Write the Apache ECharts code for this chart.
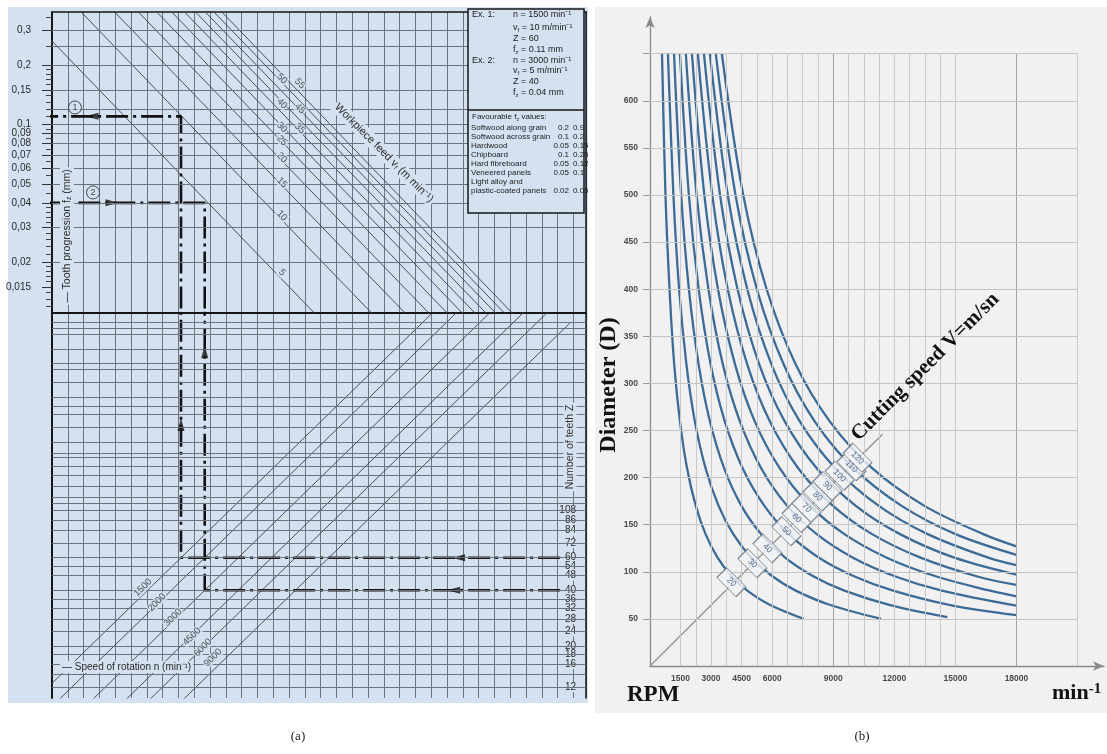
<!DOCTYPE html>
<html>
<head>
<meta charset="utf-8">
<script src="https://cdn.jsdelivr.net/npm/echarts@6.0.0/dist/echarts.min.js"></script>
<style>
html,body{margin:0;padding:0;background:#ffffff;}
#chart{width:1107px;height:754px;}
</style>
</head>
<body>
<div id="chart"></div>
<script>
// ================= Panel (a): feed nomogram =================
const fzTickValues = [0.3, 0.2, 0.15, 0.1, 0.09, 0.08, 0.07, 0.06, 0.05, 0.04, 0.03, 0.02, 0.015];
const fzTickLabels = ['0,3', '0,2', '0,15', '0,1', '0,09', '0,08', '0,07', '0,06', '0,05', '0,04', '0,03', '0,02', '0,015'];
const fzMinorTicks = [0.35, 0.25, 0.19, 0.18, 0.17, 0.16, 0.14, 0.13, 0.12, 0.11, 0.095, 0.085, 0.075, 0.065, 0.055, 0.045, 0.038, 0.036, 0.034, 0.032, 0.028, 0.026, 0.024, 0.022, 0.019, 0.018, 0.017, 0.016, 0.014, 0.013, 0.012];
const fzGridLines = [0.3, 0.25, 0.2, 0.15, 0.12, 0.1, 0.09, 0.08, 0.07, 0.06, 0.05, 0.04, 0.035, 0.03, 0.025, 0.02, 0.015, 0.012];

const teethTicks = [108, 96, 84, 72, 60, 54, 48, 40, 36, 32, 28, 24, 20, 18, 16, 12];
const teethTickLabels = ['108', '86', '84', '72', '60', '54', '48', '40', '36', '32', '28', '24', '20', '18', '16', '12'];
// same ticks, listed so that the first two labels do not collide (keeps every label visible)
const teethLabelSequence = [60, 108, 96, 84, 72, 54, 48, 40, 36, 32, 28, 24, 20, 18, 16, 12];
const teethGridLines = [1120, 1050, 965, 800, 672, 624, 531, 440, 394, 356, 303, 252, 219, 209, 187, 167, 146, 128, 118, 108, 96, 84, 72, 60, 54, 48, 40, 36, 32, 28, 24, 20, 18, 16, 14, 12];

// workpiece feed lines v_f (m/min): each drawn between X = 1e4 and X = 1e7 (X = n*Z)
const feedRates = [5, 10, 15, 20, 25, 30, 35, 40, 45, 50, 55];
const feedLineX = [10000, 10000000];
const feedFzAtStart = [0.5, 1, 1.5, 2, 2.5, 3, 3.5, 4, 4.5, 5, 5.5];
const feedFzAtEnd = [0.0005, 0.001, 0.0015, 0.002, 0.0025, 0.003, 0.0035, 0.004, 0.0045, 0.005, 0.0055];
const feedLabelPos = [[306000, 0.0177], [306000, 0.0345], [306000, 0.0507], [306000, 0.0679], [306000, 0.0829], [306000, 0.0966], [380000, 0.0955], [306000, 0.1277], [380000, 0.1205], [306000, 0.171], [380000, 0.1614]];

// speed of rotation lines n (1/min)
const spindleSpeeds = [1500, 2000, 3000, 4500, 6000, 9000];
const speedLineX = [10000, 10000000];
const speedZAtStart = [6.667, 5, 3.333, 2.222, 1.667, 1.111];
const speedZAtEnd = [6667, 5000, 3333, 2222, 1667, 1111];
const speedLabelPos = [[56750, 41.4], [67300, 34.4], [81600, 28.5], [102800, 22.5], [117500, 19.6], [132500, 17.3]];

// worked examples (dash-dot paths)
const ex1Lower = [[8900000, 60], [90000, 60], [90000, 5000]];
const ex1Upper = [[90000, 0.001], [90000, 0.11], [1000, 0.11]];
const ex2Lower = [[8900000, 40], [120000, 40], [120000, 5000]];
const ex2Upper = [[120000, 0.001], [120000, 0.04], [1000, 0.04]];
const lowerArrows = [[2600000, 60, 'left'], [2450000, 40, 'left'], [90000, 315, 'up'], [120000, 780, 'up']];
const upperArrows = [[30600, 0.11, 'left'], [39000, 0.04, 'right']];
const exampleMarks = [[24900, 0.122, '1'], [31000, 0.0452, '2']];

// ================= Panel (b): cutting speed curves =================
const cuttingSpeeds = [20, 30, 40, 50, 60, 70, 80, 90, 100, 110, 120];
const curve20 = [[590, 650], [760, 500], [960, 400], [1190, 320], [1470, 260], [1820, 210], [2250, 170], [2730, 140], [3320, 115], [4020, 95], [4780, 80], [5880, 65], [7550, 50]];
const curve30 = [[880, 650], [1150, 500], [1430, 400], [1790, 320], [2200, 260], [2730, 210], [3370, 170], [4090, 140], [4980, 115], [6030, 95], [7160, 80], [8820, 65], [11350, 50]];
const curve40 = [[1180, 650], [1530, 500], [1910, 400], [2390, 320], [2940, 260], [3640, 210], [4490, 170], [5460, 140], [6640, 115], [8040, 95], [9550, 80], [11750, 65], [14600, 52]];
const curve50 = [[1470, 650], [1910, 500], [2390, 400], [2980, 320], [3670, 260], [4550, 210], [5620, 170], [6820, 140], [8300, 115], [10050, 95], [11940, 80], [14690, 65], [18000, 54]];
const curve60 = [[1760, 650], [2290, 500], [2870, 400], [3580, 320], [4410, 260], [5460, 210], [6740, 170], [8190, 140], [9970, 115], [12060, 95], [14330, 80], [18000, 64]];
const curve70 = [[2060, 650], [2670, 500], [3340, 400], [4180, 320], [5140, 260], [6370, 210], [7870, 170], [9550, 140], [11630, 115], [14070, 95], [16710, 80], [18000, 74]];
const curve80 = [[2350, 650], [3060, 500], [3820, 400], [4780, 320], [5880, 260], [7280, 210], [8990, 170], [10910, 140], [13290, 115], [16080, 95], [18000, 86]];
const curve90 = [[2650, 650], [3440, 500], [4300, 400], [5370, 320], [6610, 260], [8190, 210], [10110, 170], [12280, 140], [14950, 115], [18000, 97]];
const curve100 = [[2940, 650], [3820, 500], [4780, 400], [5970, 320], [7350, 260], [9100, 210], [11240, 170], [13640, 140], [16610, 115], [18000, 107]];
const curve110 = [[3230, 650], [4200, 500], [5250, 400], [6570, 320], [8080, 260], [10000, 210], [12360, 170], [15010, 140], [18000, 118]];
const curve120 = [[3530, 650], [4580, 500], [5730, 400], [7160, 320], [8820, 260], [10910, 210], [13480, 170], [16370, 140], [18000, 127]];
const speedCurves = [curve20, curve30, curve40, curve50, curve60, curve70, curve80, curve90, curve100, curve110, curve120];
const speedLabelPoints = [[4000, 89], [5030, 109], [5770, 125], [6700, 143], [7200, 157], [7690, 168], [8230, 180], [8720, 191], [9310, 202], [9900, 212], [10190, 221]];
const cuttingLine = [[0, 0], [11420, 246]];
const rpmTickLabels = [1500, 3000, 4500, 6000, 9000, 12000, 15000, 18000];
const rpmGridLines = [1500, 2250, 3000, 3750, 4500, 5250, 6000, 6750, 7500, 8250, 9000, 9750, 10500, 11250, 12000, 12750, 13500, 14250, 15000, 18000, 21000];
const rpmDarkLines = [9000, 18000];
const diameterTicks = [50, 100, 150, 200, 250, 300, 350, 400, 450, 500, 550, 600, 650];
const diameterTickLabels = [50, 100, 150, 200, 250, 300, 350, 400, 450, 500, 550, 600];

// ================= ranges & styles =================
const L = v => Math.log10(v);
const X_RANGE = [18855, 12180000];
const FZ_RANGE = [0.01104, 0.3724];
const Z_RANGE = [10.47, 1262];
const N_RANGE = [0, 22300];
const D_RANGE = [0, 689];
const BLUE = '#d3e1f1';
const GRAY_A = '#6d727b';
const INK = '#161616';
const ROT = { left: 90, right: -90, up: 0 };
const SANS = 'Liberation Sans';
const SERIF = 'Liberation Serif';

function labelFrom(values, labels) {
  return function (v) {
    let best = -1, bestD = Infinity;
    for (let i = 0; i < values.length; i++) {
      const d = Math.abs(L(values[i]) - v);
      if (d < bestD) { bestD = d; best = i; }
    }
    return bestD < 0.002 ? labels[best] : '';
  };
}

const chart = echarts.init(document.getElementById('chart'));

const series = [];
// horizontal grid lines of upper section
series.push({
  type: 'line', xAxisIndex: 0, yAxisIndex: 0, data: [[40000, 0.1]], symbol: 'none',
  lineStyle: { width: 0 }, silent: true, z: 1,
  markLine: { silent: true, symbol: ['none', 'none'], label: { show: false },
    lineStyle: { color: GRAY_A, width: 1, type: 'solid' },
    data: fzGridLines.map(v => ({ yAxis: v })) }
});
// horizontal grid lines of lower section
series.push({
  type: 'line', xAxisIndex: 2, yAxisIndex: 4, data: [[40000, 100]], symbol: 'none',
  lineStyle: { width: 0 }, silent: true, z: 1,
  markLine: { silent: true, symbol: ['none', 'none'], label: { show: false },
    lineStyle: { color: GRAY_A, width: 1, type: 'solid' },
    data: teethGridLines.map(v => ({ yAxis: v })) }
});
// feed lines
feedRates.forEach((vf, i) => series.push({
  type: 'line', xAxisIndex: 0, yAxisIndex: 0, silent: true, z: 2, symbol: 'none',
  data: [[feedLineX[0], feedFzAtStart[i]], [feedLineX[1], feedFzAtEnd[i]]],
  lineStyle: { color: '#3a3f47', width: 0.9 }
}));
// speed lines
spindleSpeeds.forEach((n, i) => series.push({
  type: 'line', xAxisIndex: 2, yAxisIndex: 4, silent: true, z: 2, symbol: 'none',
  data: [[speedLineX[0], speedZAtStart[i]], [speedLineX[1], speedZAtEnd[i]]],
  lineStyle: { color: '#3a3f47', width: 0.9 }
}));
// dash-dot example paths
const DASHDOT = [22, 5, 3, 5];
[ex1Lower, ex2Lower].forEach(p => series.push({
  type: 'line', xAxisIndex: 2, yAxisIndex: 4, data: p, symbol: 'none', silent: true, z: 3,
  lineStyle: { color: '#111', width: 2.6, type: DASHDOT }
}));
[ex1Upper, ex2Upper].forEach(p => series.push({
  type: 'line', xAxisIndex: 0, yAxisIndex: 0, data: p, symbol: 'none', silent: true, z: 3,
  lineStyle: { color: '#111', width: 2.6, type: DASHDOT }
}));
series.push({
  type: 'scatter', xAxisIndex: 2, yAxisIndex: 4, symbol: 'triangle', symbolSize: [7, 13], silent: true, z: 4,
  itemStyle: { color: '#111' },
  data: lowerArrows.map(a => ({ value: [a[0], a[1]], symbolRotate: ROT[a[2]] }))
});
series.push({
  type: 'scatter', xAxisIndex: 0, yAxisIndex: 0, symbol: 'triangle', symbolSize: [7, 13], silent: true, z: 4,
  itemStyle: { color: '#111' },
  data: upperArrows.map(a => ({ value: [a[0], a[1]], symbolRotate: ROT[a[2]] }))
});
series.push({
  type: 'scatter', xAxisIndex: 0, yAxisIndex: 0, symbol: 'circle', symbolSize: 13, silent: true, z: 5,
  itemStyle: { color: BLUE, borderColor: '#222', borderWidth: 1 },
  label: { show: true, position: 'inside', fontSize: 9, color: '#222', fontFamily: SANS, formatter: p => exampleMarks[p.dataIndex][2] },
  data: exampleMarks.map(m => [m[0], m[1]])
});
// feed labels
series.push({
  type: 'scatter', xAxisIndex: 0, yAxisIndex: 0, symbolSize: 1, silent: true, z: 5,
  itemStyle: { color: 'rgba(0,0,0,0)' },
  label: { show: true, position: 'inside', rotate: -45, fontSize: 9.5, color: '#2e2e2e', fontFamily: SANS,
    backgroundColor: BLUE, padding: [0, 1], formatter: p => String(feedRates[p.dataIndex]) },
  data: feedLabelPos
});
// speed labels
series.push({
  type: 'scatter', xAxisIndex: 2, yAxisIndex: 4, symbolSize: 1, silent: true, z: 5,
  itemStyle: { color: 'rgba(0,0,0,0)' },
  label: { show: true, position: 'inside', rotate: 45, fontSize: 9.5, color: '#2e2e2e', fontFamily: SANS,
    backgroundColor: BLUE, padding: [0, 1], formatter: p => String(spindleSpeeds[p.dataIndex]) },
  data: speedLabelPos
});

// ---- panel (b)
const gridLineData = [];
rpmGridLines.forEach(n => gridLineData.push([
  { coord: [n, 0], lineStyle: { color: rpmDarkLines.includes(n) ? '#a2a2a2' : '#cacaca', width: 1, type: 'solid' } },
  { coord: [n, 650] }
]));
diameterTicks.forEach(d => gridLineData.push([
  { coord: [0, d], lineStyle: { color: '#c4c4c4', width: 1, type: 'solid' } },
  { coord: [21000, d] }
]));
series.push({
  type: 'line', xAxisIndex: 4, yAxisIndex: 7, data: cuttingLine, symbol: 'none', silent: true, z: 2,
  lineStyle: { color: '#8d8d8d', width: 1.2 },
  markLine: { silent: true, symbol: ['none', 'none'], label: { show: false },
    lineStyle: { color: '#cacaca', width: 1, type: 'solid' }, data: gridLineData }
});
speedCurves.forEach(c => series.push({
  type: 'line', xAxisIndex: 4, yAxisIndex: 7, data: c, smooth: 0.35, symbol: 'none', silent: true, z: 3,
  lineStyle: { color: '#3b6b97', width: 2.3 }
}));
series.push({
  type: 'scatter', xAxisIndex: 4, yAxisIndex: 7, data: speedLabelPoints, symbol: 'rect', symbolSize: [27, 14],
  symbolRotate: -45, silent: true, z: 5,
  itemStyle: { color: '#f2f4f6', borderColor: '#68737f', borderWidth: 1 },
  label: { show: true, position: 'inside', rotate: -45, fontSize: 8.5, color: '#2c4e7c', fontFamily: SANS,
    formatter: p => String(cuttingSpeeds[p.dataIndex]) }
});

// ---- graphic (backgrounds, titles, example box)
function txt(x, y, text, style, extra) {
  return Object.assign({
    type: 'text', x: x, y: y, z: 100, silent: true,
    style: Object.assign({ text: text, fill: '#222', fontSize: 9, fontFamily: SANS, align: 'left', verticalAlign: 'middle' }, style || {})
  }, extra || {});
}
const subRich = {
  n: { fontSize: 9, fontFamily: SANS, fill: '#222' },
  s: { fontSize: 6, fontFamily: SANS, fill: '#222', verticalAlign: 'bottom', padding: [4, 0, 0, 0] }
};
const subRich8 = {
  n: { fontSize: 8, fontFamily: SANS, fill: '#222' },
  s: { fontSize: 5.5, fontFamily: SANS, fill: '#222', verticalAlign: 'bottom', padding: [4, 0, 0, 0] }
};
const boxRows = [
  [15, 'Ex. 1:', 'n = 1500 min⁻¹'],
  [28, '', '{n|v}{s|f}{n| = 10 m/min⁻¹}'],
  [39, '', 'Z = 60'],
  [50, '', '{n|f}{s|z}{n| = 0.11 mm}'],
  [61, 'Ex. 2:', 'n = 3000 min⁻¹'],
  [71, '', '{n|v}{s|f}{n| = 5 m/min⁻¹}'],
  [82, '', 'Z = 40'],
  [93, '', '{n|f}{s|z}{n| = 0.04 mm}']
];
const fzRows = [
  [128, 'Softwood along grain', '0.2', '0.9'],
  [137, 'Softwood across grain', '0.1', '0.2'],
  [146, 'Hardwood', '0.05', '0.15'],
  [155, 'Chipboard', '0.1', '0.25'],
  [164, 'Hard fibreboard', '0.05', '0.12'],
  [173, 'Veneered panels', '0.05', '0.1'],
  [182, 'Light alloy and', '', ''],
  [191, 'plastic-coated panels', '0.02', '0.05']
];
const boxEls = [
  { type: 'rect', z: 100, silent: true, shape: { x: 468, y: 9, width: 116, height: 204 }, style: { fill: BLUE, stroke: INK, lineWidth: 1.5 } },
  { type: 'line', z: 100, silent: true, shape: { x1: 468, y1: 110, x2: 584, y2: 110 }, style: { stroke: INK, lineWidth: 1.5 } }
];
boxRows.forEach(r => {
  if (r[1]) boxEls.push(txt(472, r[0], r[1], { fontSize: 9 }));
  boxEls.push(txt(513, r[0], r[2], { fontSize: 9, rich: subRich }));
});
boxEls.push(txt(472, 117, '{n|Favourable f}{s|z}{n| values:}', { fontSize: 8, rich: subRich8 }));
fzRows.forEach(r => {
  boxEls.push(txt(471, r[0], r[1], { fontSize: 8 }));
  if (r[2]) boxEls.push(txt(569, r[0], r[2], { fontSize: 8, align: 'right' }));
  if (r[3]) boxEls.push(txt(573, r[0], r[3], { fontSize: 8 }));
});

const graphicEls = [
  { type: 'rect', z: -10, silent: true, shape: { x: 8, y: 7, width: 580, height: 696 }, style: { fill: BLUE } },
  { type: 'rect', z: -10, silent: true, shape: { x: 595, y: 7, width: 512, height: 706 }, style: { fill: '#f1f1f1' } },
  ...boxEls,
  txt(67, 236, '{n|— Tooth progression f}{s|z}{n| (mm)}', {
    align: 'center', backgroundColor: BLUE, padding: [1, 2],
    rich: { n: { fontSize: 10.5, fontFamily: SANS, fill: '#2a2a2a' }, s: { fontSize: 7, fontFamily: SANS, fill: '#2a2a2a', verticalAlign: 'bottom', padding: [5, 0, 0, 0] } }
  }, { rotation: Math.PI / 2 }),
  txt(570, 447, 'Number of teeth Z', { align: 'center', fontSize: 10.5, fill: '#3a3232', backgroundColor: BLUE, padding: [1, 2] }, { rotation: Math.PI / 2 }),
  txt(384, 153, '{n|Workpiece feed v}{s|f}{n| (m min⁻¹)}', {
    align: 'center', backgroundColor: BLUE, padding: [1, 2],
    rich: { n: { fontSize: 11, fontFamily: SANS, fill: '#2f2f2f' }, s: { fontSize: 7, fontFamily: SANS, fill: '#2f2f2f', verticalAlign: 'bottom', padding: [5, 0, 0, 0] } }
  }, { rotation: -Math.PI / 4 }),
  txt(60, 667, '— Speed of rotation n (min⁻¹)', { fontSize: 10, fill: '#2a2a2a', backgroundColor: BLUE, padding: [1, 2] }),
  // panel (b) titles
  txt(609, 385, 'Diameter (D)', { align: 'center', fontSize: 24, fontWeight: 'bold', fontFamily: SERIF, fill: '#111' }, { rotation: Math.PI / 2 }),
  txt(627, 695, 'RPM', { fontSize: 23, fontWeight: 'bold', fontFamily: SERIF, fill: '#111' }),
  txt(1052, 693, '{a|min}{b|-1}', {
    rich: { a: { fontSize: 22, fontWeight: 'bold', fontFamily: SERIF, fill: '#111' },
            b: { fontSize: 15, fontWeight: 'bold', fontFamily: SERIF, fill: '#111', verticalAlign: 'top' } }
  }),
  txt(862, 445, 'Cutting speed V=m/sn', { fontSize: 21, fontWeight: 'bold', fontFamily: SERIF, fill: '#111', verticalAlign: 'bottom' }, { rotation: Math.PI / 4 }),
  txt(298, 737, '(a)', { align: 'center', fontSize: 13, fontFamily: SERIF, fill: '#222' }),
  txt(862, 737, '(b)', { align: 'center', fontSize: 13, fontFamily: SERIF, fill: '#222' })
];

const option = {
  animation: false,
  backgroundColor: '#ffffff',
  textStyle: { fontFamily: SANS },
  grid: [
    { left: 52, top: 12, width: 534, height: 301, outerBoundsMode: 'none' },
    { left: 52, top: 313, width: 534, height: 385, outerBoundsMode: 'none' },
    { left: 650, top: 17, width: 454, height: 649, outerBoundsMode: 'none' }
  ],
  xAxis: [
    { type: 'log', logBase: 10, gridIndex: 0, min: X_RANGE[0], max: X_RANGE[1], show: false },
    { type: 'value', gridIndex: 0, position: 'top', min: 0, max: 33.8, interval: 1,
      axisLine: { show: true, lineStyle: { color: INK, width: 1.5 } }, axisTick: { show: false }, axisLabel: { show: false },
      splitLine: { show: true, lineStyle: { color: GRAY_A, width: 1 } } },
    { type: 'log', logBase: 10, gridIndex: 1, min: X_RANGE[0], max: X_RANGE[1], show: false },
    { type: 'value', gridIndex: 1, position: 'top', min: 0, max: 33.8, interval: 1,
      axisLine: { show: true, lineStyle: { color: INK, width: 2 } }, axisTick: { show: false }, axisLabel: { show: false },
      splitLine: { show: true, lineStyle: { color: GRAY_A, width: 1 } } },
    { type: 'value', gridIndex: 2, position: 'bottom', min: N_RANGE[0], max: N_RANGE[1],
      axisLine: { show: true, symbol: ['none', 'arrow'], symbolSize: [7, 11], lineStyle: { color: '#8a8a8a', width: 1.3 } },
      axisTick: { show: false },
      axisLabel: { show: true, customValues: rpmTickLabels, formatter: v => String(v), fontSize: 8.5, color: '#4a4a4a', margin: 8, fontWeight: 'bold' },
      splitLine: { show: false } }
  ],
  yAxis: [
    { type: 'log', logBase: 10, gridIndex: 0, min: FZ_RANGE[0], max: FZ_RANGE[1], show: false },
    { type: 'value', gridIndex: 0, position: 'left', min: L(FZ_RANGE[0]), max: L(FZ_RANGE[1]),
      axisLine: { show: true, lineStyle: { color: INK, width: 2 } },
      axisTick: { show: true, customValues: fzTickValues.map(L), length: 10, lineStyle: { color: '#333' } },
      axisLabel: { show: true, customValues: fzTickValues.map(L), formatter: labelFrom(fzTickValues, fzTickLabels), fontSize: 10, color: '#2a2a2a', margin: 21 },
      splitLine: { show: false } },
    { type: 'value', gridIndex: 0, position: 'left', min: L(FZ_RANGE[0]), max: L(FZ_RANGE[1]),
      axisLine: { show: false },
      axisTick: { show: true, customValues: fzMinorTicks.map(L), length: 6, lineStyle: { color: '#444' } },
      axisLabel: { show: false }, splitLine: { show: false } },
    { type: 'value', gridIndex: 0, position: 'right', min: L(FZ_RANGE[0]), max: L(FZ_RANGE[1]),
      axisLine: { show: true, lineStyle: { color: INK, width: 1.5 } }, axisTick: { show: false }, axisLabel: { show: false }, splitLine: { show: false } },
    { type: 'log', logBase: 10, gridIndex: 1, min: Z_RANGE[0], max: Z_RANGE[1], show: false },
    { type: 'value', gridIndex: 1, position: 'right', min: L(Z_RANGE[0]), max: L(Z_RANGE[1]),
      axisLine: { show: true, lineStyle: { color: INK, width: 1.5 } },
      axisTick: { show: true, inside: true, customValues: teethTicks.map(L), length: 26, lineStyle: { color: '#333' } },
      axisLabel: { show: true, inside: true, customValues: teethLabelSequence.map(L), formatter: labelFrom(teethTicks, teethTickLabels),
        fontSize: 10, color: '#2a2a2a', margin: 9, backgroundColor: BLUE, padding: [0, 1], hideOverlap: false },
      splitLine: { show: false } },
    { type: 'value', gridIndex: 1, position: 'left', min: L(Z_RANGE[0]), max: L(Z_RANGE[1]),
      axisLine: { show: true, lineStyle: { color: INK, width: 2 } }, axisTick: { show: false }, axisLabel: { show: false }, splitLine: { show: false } },
    { type: 'value', gridIndex: 2, position: 'left', min: D_RANGE[0], max: D_RANGE[1],
      axisLine: { show: true, symbol: ['none', 'arrow'], symbolSize: [7, 11], lineStyle: { color: '#8a8a8a', width: 1.3 } },
      axisTick: { show: true, customValues: diameterTicks, length: 7, lineStyle: { color: '#9a9a9a' } },
      axisLabel: { show: true, customValues: diameterTickLabels, fontSize: 8.5, color: '#4a4a4a', margin: 12, fontWeight: 'bold' },
      splitLine: { show: false } }
  ],
  series: series,
  graphic: { elements: graphicEls }
};
chart.setOption(option);
</script>
</body>
</html>
